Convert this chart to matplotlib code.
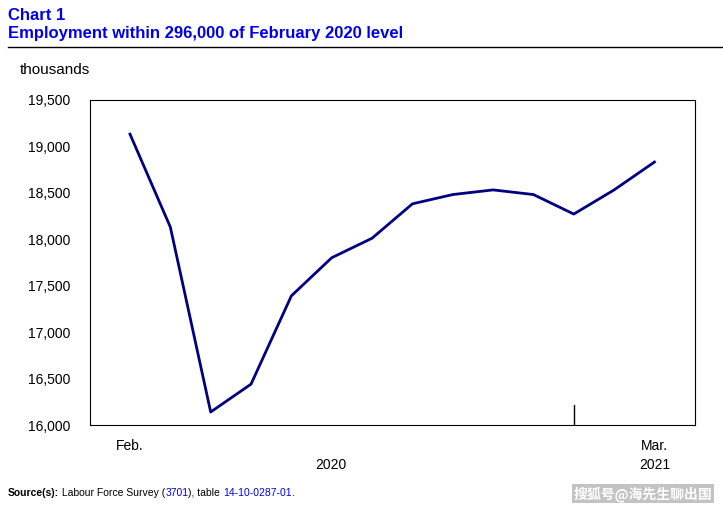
import matplotlib
matplotlib.use("Agg")
import matplotlib.pyplot as plt

months = ["Feb.", "Mar.", "Apr.", "May", "Jun.", "Jul.", "Aug.", "Sep.", "Oct.", "Nov.", "Dec.", "Jan.", "Feb.", "Mar."]
employment = [19130, 18130, 16140, 16440, 17390, 17800, 18010, 18380, 18480, 18530, 18480, 18270, 18530, 18830]
yticks = [16000, 16500, 17000, 17500, 18000, 18500, 19000, 19500]

plt.rcParams['font.family'] = ['Liberation Sans', 'DejaVu Sans']
fig = plt.figure(figsize=(7.23, 5.09), dpi=100)
ax = fig.add_axes([0.124, 0.165, 0.837, 0.639])
x = list(range(len(employment)))
ax.plot(x, employment, color='#000080', lw=2)
ax.set_xlim(-1, 14)
ax.set_ylim(16000, 19500)
ax.set_yticks(yticks)
ax.set_yticklabels([f"{v:,}" for v in yticks], fontsize=10)
ax.tick_params(axis='y', length=0, pad=14)
ax.set_xticks([0, 13])
ax.set_xticklabels([months[0], months[-1]], fontsize=10)
ax.tick_params(axis='x', length=0, pad=10)
ax.axvline(11, ymin=0, ymax=0.06, color='black', lw=1)
for s in ax.spines.values():
    s.set_linewidth(0.8)
ax.text(0.398, -0.1, "2020", transform=ax.transAxes, ha='center', va='top', fontsize=10)
ax.text(13, -0.1, "2021", transform=ax.get_xaxis_transform(), ha='center', va='top', fontsize=10)

fig.text(0.011, 0.985, "Chart 1", color='#0000ee', fontsize=12, fontweight='bold', va='top')
fig.text(0.011, 0.948, "Employment within 296,000 of February 2020 level", color='#0000ee', fontsize=12, fontweight='bold', va='top')
fig.add_artist(plt.Line2D([0.011, 1.0], [0.907, 0.907], color='black', lw=1))
fig.text(0.027, 0.862, "thousands", fontsize=11, va='center')

parts = [("Source(s):", 'black', 'bold'), (" Labour Force Survey (", 'black', 'normal'),
         ("3701", '#0000ee', 'normal'), ("), table ", 'black', 'normal'),
         ("14-10-0287-01", '#0000ee', 'normal'), (".", 'black', 'normal')]
prev = fig.text(0.011, 0.025, parts[0][0], fontsize=7.5, fontweight='bold', va='baseline')
for t, c, w in parts[1:]:
    prev = fig.text(0, 0, t, fontsize=7.5, color=c, fontweight=w, va='baseline',
                    transform=matplotlib.transforms.offset_copy(fig.transFigure, fig=fig, x=0, y=0))
    prev.remove()
# simpler: use annotate chaining
for a in list(fig.texts):
    pass
fig.texts[:] = [t for t in fig.texts if t.get_position() != (0, 0)]
prev = [t for t in fig.texts if t.get_text() == "Source(s):"][0]
for t, c, w in parts[1:]:
    prev = fig.text(0, 0, "", fontsize=7.5)
    prev.remove()
    break
src = [t for t in fig.texts if t.get_text() == "Source(s):"][0]
prev = src
for t, c, w in parts[1:]:
    prev = ax.annotate(t, xy=(1, 0), xycoords=prev, fontsize=7.5, color=c, fontweight=w,
                       va='bottom', ha='left', annotation_clip=False)

fig.text(0.985, 0.03, "搜狐号@海先生聊出国", fontsize=10, va='center', ha='right', color='white',
         family=['Noto Sans CJK SC', 'DejaVu Sans'], fontweight='bold',
         bbox=dict(facecolor='#888888', edgecolor='none', alpha=0.5, pad=1))
fig.savefig("out.png", dpi=100)
